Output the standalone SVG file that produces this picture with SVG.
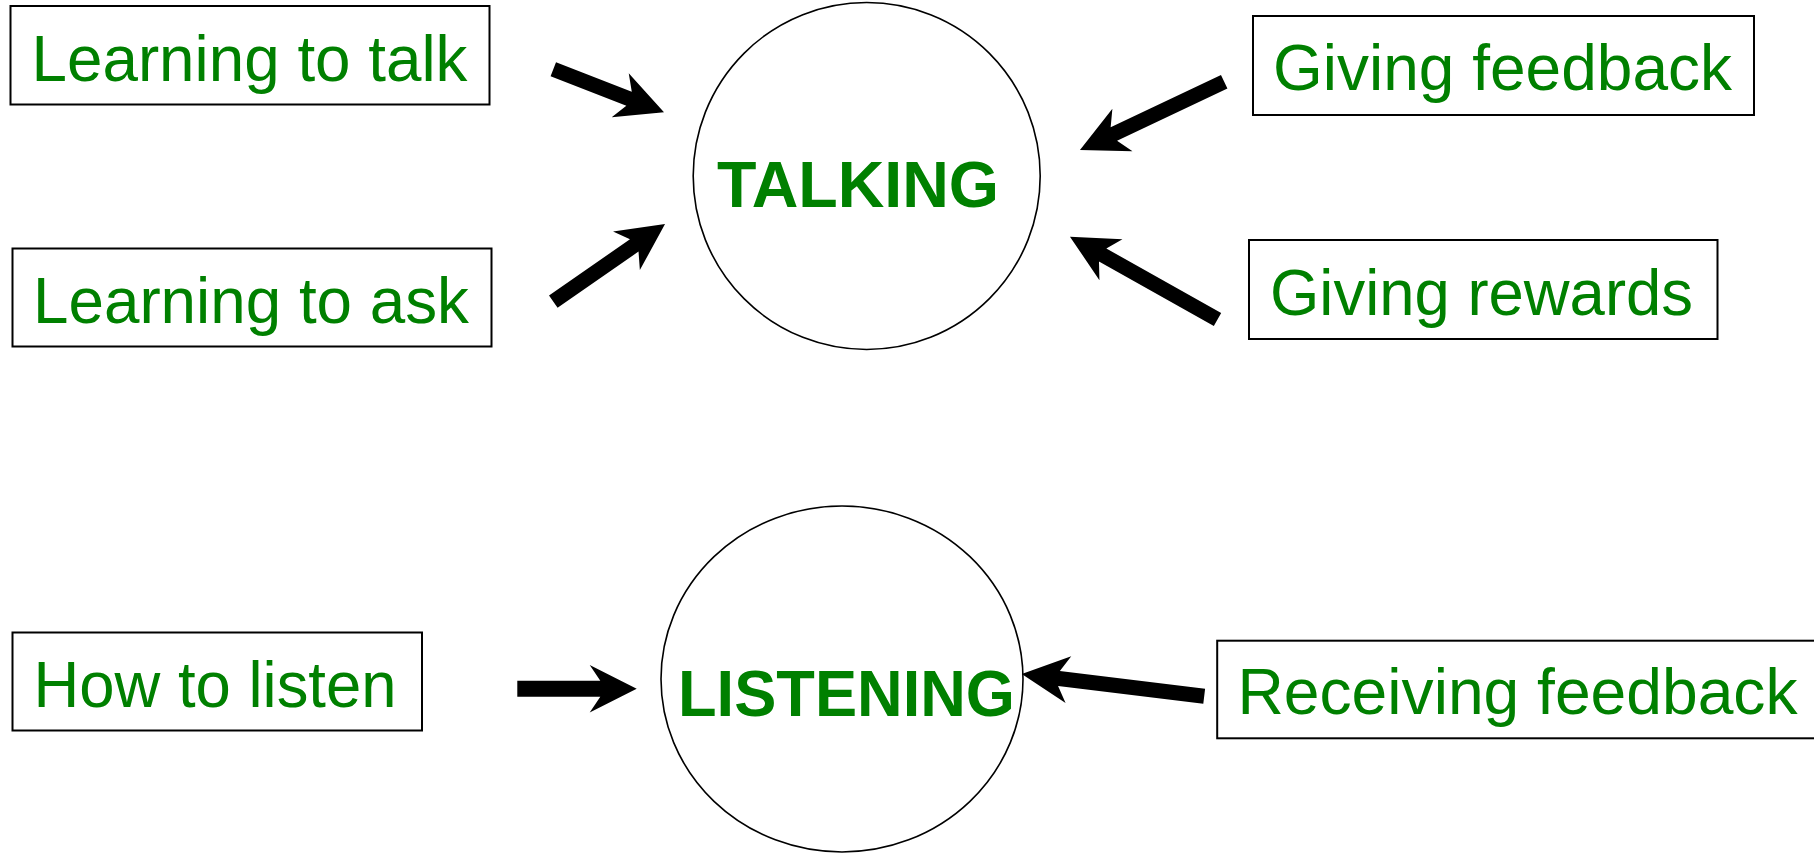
<svg xmlns="http://www.w3.org/2000/svg" width="1814" height="853" viewBox="0 0 1814 853">
  <style>
    .box { fill: #ffffff; stroke: #000000; stroke-width: 2; }
    .hub { fill: #ffffff; stroke: #000000; stroke-width: 1.6; }
    .label { font-family: "Liberation Sans", Arial, sans-serif; font-size: 65px; fill: #008000; }
    .title { font-family: "Liberation Sans", Arial, sans-serif; font-weight: bold; fill: #008000; }
    .arrow { fill: #000000; stroke: none; }
  </style>
  <rect width="1814" height="853" fill="#ffffff"/>

  <!-- central hubs -->
  <g id="talking">
    <circle class="hub" cx="866.7" cy="176" r="173.5"/>
    <text class="title" x="717" y="206.7" font-size="64" textLength="282" lengthAdjust="spacingAndGlyphs">TALKING</text>
  </g>
  <g id="listening">
    <ellipse class="hub" cx="842" cy="679" rx="181" ry="173"/>
    <text class="title" x="678" y="715.7" font-size="65" textLength="337" lengthAdjust="spacingAndGlyphs">LISTENING</text>
  </g>

  <!-- source boxes -->
  <g id="learning-to-talk">
    <rect class="box" x="10.5" y="6" width="479" height="98.5"/>
    <text class="label" x="31.5" y="81" textLength="436" lengthAdjust="spacingAndGlyphs">Learning to talk</text>
  </g>
  <g id="learning-to-ask">
    <rect class="box" x="12.5" y="248.5" width="479" height="98"/>
    <text class="label" x="33" y="322.7" textLength="436" lengthAdjust="spacingAndGlyphs">Learning to ask</text>
  </g>
  <g id="giving-feedback">
    <rect class="box" x="1253" y="16" width="501" height="99"/>
    <text class="label" x="1273" y="90" textLength="459" lengthAdjust="spacingAndGlyphs">Giving feedback</text>
  </g>
  <g id="giving-rewards">
    <rect class="box" x="1249" y="240" width="468.5" height="99"/>
    <text class="label" x="1270" y="315" textLength="423" lengthAdjust="spacingAndGlyphs">Giving rewards</text>
  </g>
  <g id="how-to-listen">
    <rect class="box" x="12.5" y="632.5" width="409.5" height="98"/>
    <text class="label" x="33.5" y="706.7" textLength="363" lengthAdjust="spacingAndGlyphs">How to listen</text>
  </g>
  <g id="receiving-feedback">
    <rect class="box" x="1217.2" y="640.7" width="600" height="97.6"/>
    <text class="label" x="1237.5" y="714.3" textLength="560" lengthAdjust="spacingAndGlyphs">Receiving feedback</text>
  </g>

  <!-- block arrows: tail at origin, tip at (L,0) -->
  <g id="connectors">
    <polygon class="arrow" transform="translate(553.3,69.2) rotate(21.27)" points="0,-7.5 81.3,-7.5 71.8,-23.5 118.8,0 71.8,23.5 81.3,7.5 0,7.5"/>
    <polygon class="arrow" transform="translate(553.3,301.7) rotate(-34.82)" points="0,-7.5 98.6,-7.5 89.1,-23.5 136.1,0 89.1,23.5 98.6,7.5 0,7.5"/>
    <polygon class="arrow" transform="translate(1224.2,81.7) rotate(154.65)" points="0,-7.5 122.1,-7.5 112.6,-23.5 159.6,0 112.6,23.5 122.1,7.5 0,7.5"/>
    <polygon class="arrow" transform="translate(1217.5,319.5) rotate(-150.69)" points="0,-7.5 131.7,-7.5 122.2,-23.5 169.2,0 122.2,23.5 131.7,7.5 0,7.5"/>
    <polygon class="arrow" transform="translate(517.3,688.7)" points="0,-8 83,-8 72.4,-23.7 119.4,0 72.4,23.7 83,8 0,8"/>
    <polygon class="arrow" transform="translate(1204.2,696.2) rotate(-173.06)" points="0,-7.5 146.3,-7.5 136.8,-23.5 183.8,0 136.8,23.5 146.3,7.5 0,7.5"/>
  </g>
</svg>
